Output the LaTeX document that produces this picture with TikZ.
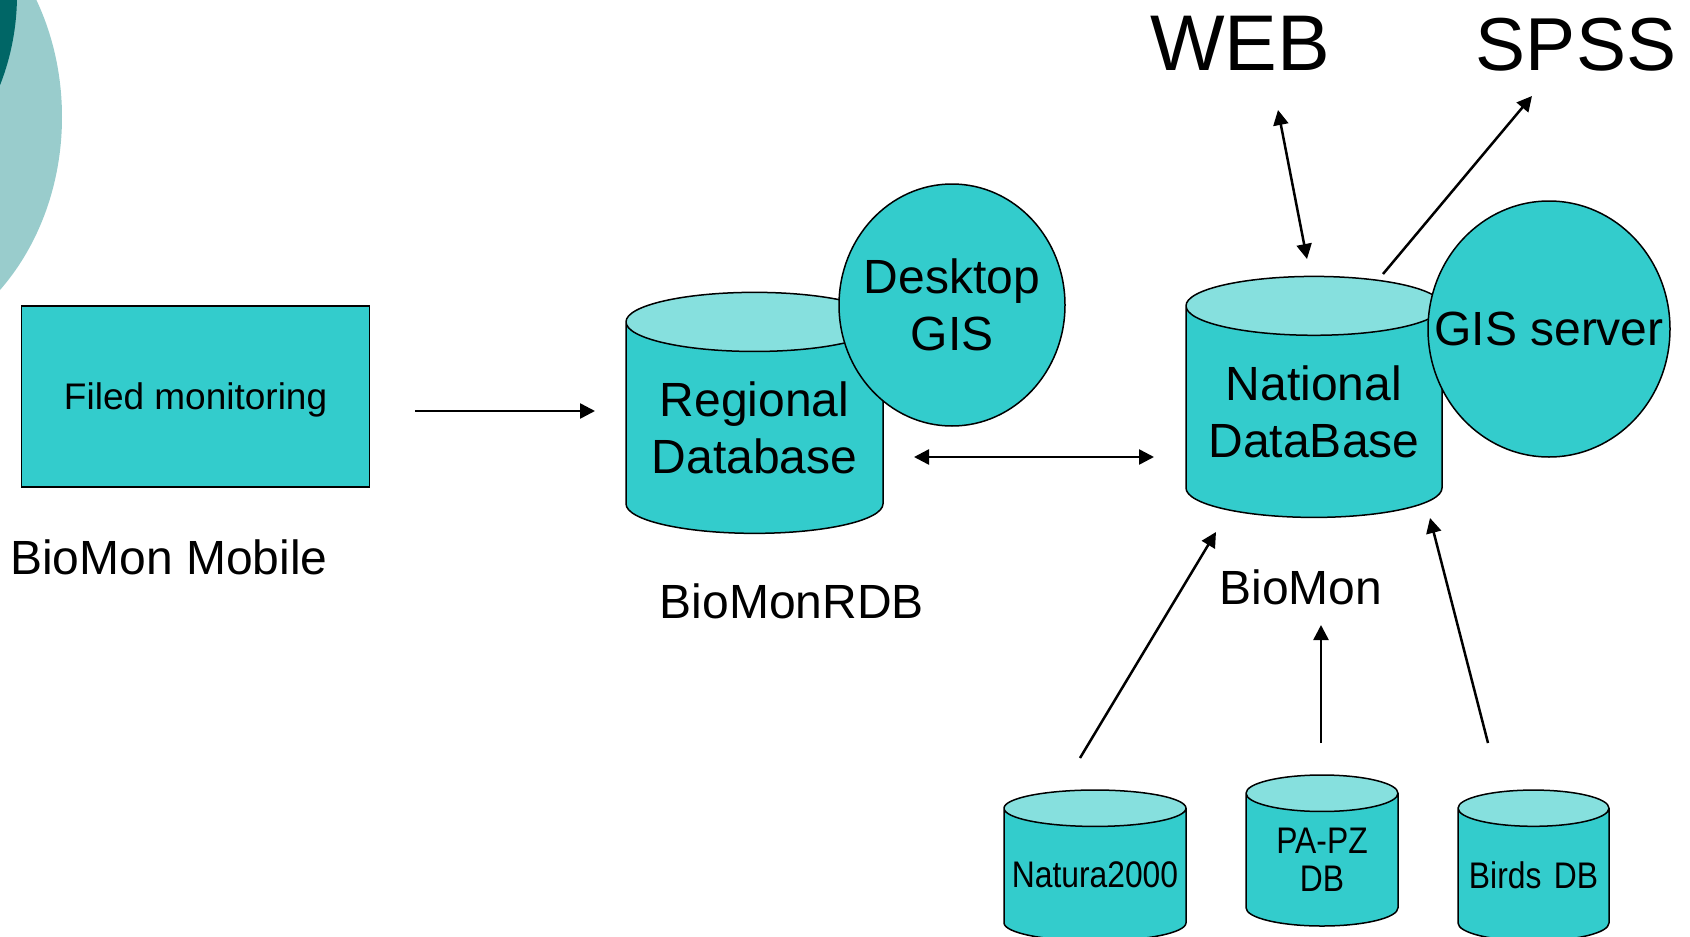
\documentclass[tikz,border=0pt]{standalone}
\usepackage{fontspec}
\setmainfont{Liberation Sans}
\newfontfamily\narrowfont{Liberation Sans}[FakeStretch=0.86]
\usetikzlibrary{shapes.geometric,arrows.meta}

\definecolor{dbfill}{HTML}{33CCCC}
\definecolor{dbtop}{HTML}{86E0DE}
\definecolor{bubblelight}{HTML}{99CCCC}
\definecolor{bubbledark}{HTML}{006666}

\tikzset{
  db/.style={cylinder, shape border rotate=90, draw, line width=1.5pt,
    cylinder uses custom fill, cylinder body fill=dbfill, cylinder end fill=dbtop,
    align=center, inner sep=0pt},
  gis/.style={ellipse, draw, line width=1.5pt, fill=dbfill, align=center,
    inner ysep=0pt, inner xsep=-30pt},
  big/.style={font=\fontsize{48}{57.6}\selectfont},
  small/.style={font=\narrowfont\fontsize{37}{38}\selectfont},
  link/.style={line width=2.5pt, -{Triangle[length=15pt,width=15pt]}},
  twoway/.style={line width=2.5pt, {Triangle[length=15pt,width=15pt]}-{Triangle[length=15pt,width=15pt]}},
}

\begin{document}
\begin{tikzpicture}[x=1pt,y=-1pt]
    \useasboundingbox (0,0) rectangle (1690,937);
    \clip (0,0) rectangle (1690,937);

    % corner bubbles
    \fill [bubblelight] (-140,117) ellipse [x radius=202, y radius=240];
    \fill [bubbledark] (-230,-5) circle [radius=247];

    % mobile part
    \node [draw, line width=1.5pt, fill=dbfill, minimum width=348, minimum height=181,
        text depth=0pt, font=\fontsize{37}{44}\selectfont] (mon) at (195.6,396.5) {Filed monitoring};
    \node [big, anchor=west, inner sep=0pt] (mobile) at (10,557) {BioMon Mobile};

    % regional part
    \node [db, big, text width=257, minimum height=241, aspect=0.23] (rdb) at (754.5,428) {Regional\\Database};
    \node [gis, big, minimum width=226, minimum height=242] (dgis) at (952,305) {Desktop\\GIS};
    \node [big] (rdblabel) at (792,601) {BioMonRDB};

    % national part
    \node [db, big, text width=256, minimum height=241, aspect=0.23] (ndb) at (1314,412) {National\\DataBase};
    \node [gis, big, minimum width=242, minimum height=256] (gserv) at (1549,329) {GIS server};
    \node [big] (ndblabel) at (1301,587) {BioMon};

    \node [font=\fontsize{79}{84}\selectfont] (web) at (1240,43) {WEB};
    \node [font=\fontsize{75}{80}\selectfont] (spss) at (1576,45) {SPSS};

    % source databases
    \node [db, small, text width=182, minimum height=151, aspect=0.2] (natura) at (1095,875) {Natura2000};
    \node [db, small, text width=152, minimum height=151, aspect=0.24] (papz) at (1322,860) {PA-PZ\\DB};
    \node [db, small, text width=151, minimum height=151, aspect=0.24] (birds) at (1533.5,875) {Birds DB};

    % arrow ends
    \coordinate (m1) at (415,411);
    \coordinate (m2) at (595,411);
    \coordinate (r1) at (914,457);
    \coordinate (r2) at (1154,457);
    \coordinate (w1) at (1307,259);
    \coordinate (w2) at (1278,110);
    \coordinate (s1) at (1383,274);
    \coordinate (s2) at (1532,96);
    \coordinate (n1) at (1080,758);
    \coordinate (n2) at (1216,532);
    \coordinate (p1) at (1321,743);
    \coordinate (p2) at (1321,625);
    \coordinate (b1) at (1488,743);
    \coordinate (b2) at (1430,518);

    \draw [link] (m1) -- (m2);
    \draw [twoway] (r1) -- (r2);
    \draw [twoway] (w1) -- (w2);
    \draw [link] (s1) -- (s2);
    \draw [link] (n1) -- (n2);
    \draw [link] (p1) -- (p2);
    \draw [link] (b1) -- (b2);
\end{tikzpicture}
\end{document}
